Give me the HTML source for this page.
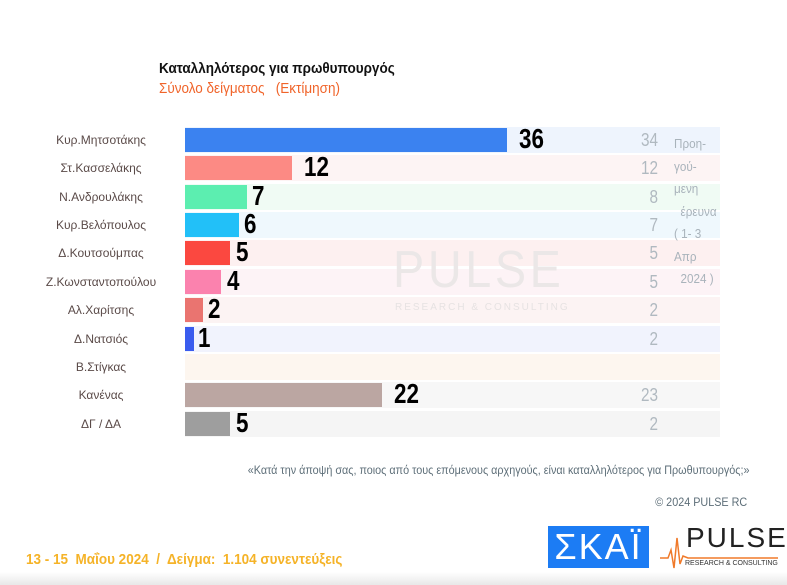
<!DOCTYPE html><html><head><meta charset="utf-8"><style>
body{margin:0;width:787px;height:585px;background:#fff;position:relative;overflow:hidden;font-family:"Liberation Sans","DejaVu Sans",sans-serif}
.a{position:absolute;white-space:nowrap}
.lab{position:absolute;left:21px;width:160px;text-align:center;font-size:12px;color:#5a4a48}
.bg{position:absolute;left:185px;width:535px;height:26px}
.bar{position:absolute;left:185px;height:24px}
.v{position:absolute;font-size:28px;font-weight:bold;color:#000;transform:scaleX(.8);transform-origin:left}
.p{position:absolute;right:129px;font-size:18px;color:#b0b9c0;transform:scaleX(.85);transform-origin:right}
</style></head><body>
<div class="a" style="left:159px;top:60px;font-size:15px;font-weight:bold;color:#111;transform:scaleX(.9);transform-origin:left">Καταλληλότερος για πρωθυπουργός</div>
<div class="a" style="left:159px;top:80px;font-size:15px;color:#f0642a;transform:scaleX(.9);transform-origin:left">Σύνολο δείγματος &nbsp;&nbsp;(Εκτίμηση)</div>

<div class="bg" style="top:127px;background:#eef4fd"></div>
<div class="bg" style="top:155px;background:#fdf4f4"></div>
<div class="bg" style="top:184px;background:#f0fbf4"></div>
<div class="bg" style="top:212px;background:#eff8fd"></div>
<div class="bg" style="top:240px;background:#fdf0f0"></div>
<div class="bg" style="top:269px;background:#fdf3f6"></div>
<div class="bg" style="top:297px;background:#fcf3f3"></div>
<div class="bg" style="top:326px;background:#f1f3fd"></div>
<div class="bg" style="top:354px;background:#fdf6ef"></div>
<div class="bg" style="top:382px;background:#f7f7f7"></div>
<div class="bg" style="top:411px;background:#f5f5f5"></div>

<div class="a" style="left:393px;top:240px;font-size:52px;color:#ebe7e7;letter-spacing:4px;transform:scaleX(.9);transform-origin:left">PULSE</div>
<div class="a" style="left:395px;top:302px;font-size:10px;color:#e6e2e2;letter-spacing:2px">RESEARCH &amp; CONSULTING</div>

<div class="bar" style="top:128px;width:322px;background:#3b82f0"></div>
<div class="bar" style="top:156px;width:107px;background:#fc8a84"></div>
<div class="bar" style="top:185px;width:62px;background:#5ceeb0"></div>
<div class="bar" style="top:213px;width:54px;background:#22c0f8"></div>
<div class="bar" style="top:241px;width:45px;background:#fb4840"></div>
<div class="bar" style="top:270px;width:36px;background:#fb82ae"></div>
<div class="bar" style="top:298px;width:18px;background:#ea7470"></div>
<div class="bar" style="top:327px;width:9px;background:#3a5cee"></div>
<div class="bar" style="top:383px;width:197px;background:#bba6a2"></div>
<div class="bar" style="top:412px;width:45px;background:#9e9e9e"></div>

<div class="v" style="left:519px;top:123px">36</div>
<div class="v" style="left:304px;top:151px">12</div>
<div class="v" style="left:252px;top:180px">7</div>
<div class="v" style="left:244px;top:208px">6</div>
<div class="v" style="left:236px;top:236px">5</div>
<div class="v" style="left:227px;top:265px">4</div>
<div class="v" style="left:208px;top:293px">2</div>
<div class="v" style="left:198px;top:322px">1</div>
<div class="v" style="left:394px;top:378px">22</div>
<div class="v" style="left:236px;top:407px">5</div>

<div class="lab" style="top:133px">Κυρ.Μητσοτάκης</div>
<div class="lab" style="top:161px">Στ.Κασσελάκης</div>
<div class="lab" style="top:190px">Ν.Ανδρουλάκης</div>
<div class="lab" style="top:218px">Κυρ.Βελόπουλος</div>
<div class="lab" style="top:246px">Δ.Κουτσούμπας</div>
<div class="lab" style="top:275px">Ζ.Κωνσταντοπούλου</div>
<div class="lab" style="top:303px">Αλ.Χαρίτσης</div>
<div class="lab" style="top:332px">Δ.Νατσιός</div>
<div class="lab" style="top:360px">Β.Στίγκας</div>
<div class="lab" style="top:388px">Κανένας</div>
<div class="lab" style="top:417px">ΔΓ / ΔΑ</div>

<div class="p" style="top:130px">34</div>
<div class="p" style="top:158px">12</div>
<div class="p" style="top:187px">8</div>
<div class="p" style="top:215px">7</div>
<div class="p" style="top:243px">5</div>
<div class="p" style="top:272px">5</div>
<div class="p" style="top:300px">2</div>
<div class="p" style="top:329px">2</div>
<div class="p" style="top:385px">23</div>
<div class="p" style="top:414px">2</div>

<div class="a" style="left:674px;top:133px;font-size:13px;color:#a9b3bb;line-height:22.5px;transform:scaleX(.9);transform-origin:left">Προη-<br>γού-<br>μενη<br>&nbsp;&nbsp;έρευνα<br>( 1- 3<br>Απρ<br>&nbsp;&nbsp;2024 )</div>

<div class="a" style="right:38px;top:463px;font-size:12px;color:#5d6e78;transform:scaleX(.9);transform-origin:right">«Κατά την άποψή σας, ποιος από τους επόμενους αρχηγούς, είναι καταλληλότερος για Πρωθυπουργός;»</div>
<div class="a" style="right:40px;top:495px;font-size:12px;color:#5d6e78;transform:scaleX(.9);transform-origin:right">© 2024 PULSE RC</div>
<div class="a" style="left:26px;top:551px;font-size:15px;font-weight:bold;color:#f5b328;transform:scaleX(.9);transform-origin:left">13 - 15&nbsp; Μαΐου 2024&nbsp; /&nbsp; Δείγμα:&nbsp; 1.104 συνεντεύξεις</div>

<div class="a" style="left:548px;top:526px;width:101px;height:42px;background:#1c7cf4;color:#fff;font-size:36px;text-align:center;line-height:42px;letter-spacing:2px">ΣΚΑΪ</div>
<svg class="a" style="left:658px;top:528px" width="124" height="44"><polyline points="2,30 10,30 13,22 16,40 19,10 22,36 25,28 30,30 120,30" fill="none" stroke="#f07a2a" stroke-width="1.5"/></svg>
<div class="a" style="left:686px;top:522px;font-size:28px;color:#222;letter-spacing:2px">PULSE</div>
<div class="a" style="left:685px;top:560px;font-size:7px;color:#333">RESEARCH &amp; CONSULTING</div>
<div class="a" style="left:0;top:572px;width:787px;height:13px;background:linear-gradient(#fff,#e8e8e8)"></div>
</body></html>
